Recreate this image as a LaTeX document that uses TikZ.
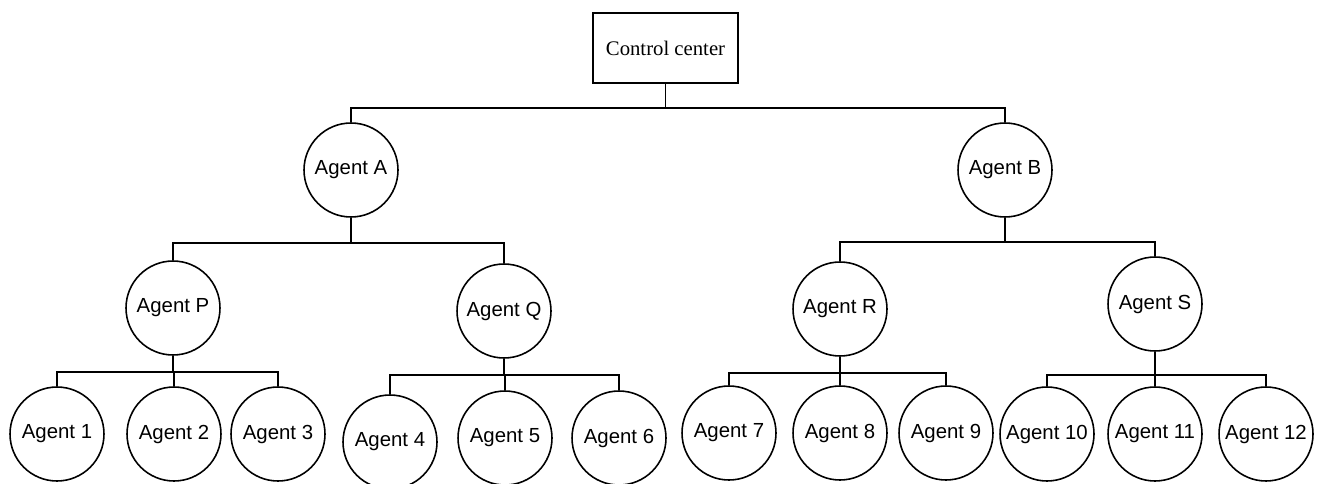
\documentclass[tikz,border=0pt]{standalone}
\usepackage{fontspec}
\setmainfont{Liberation Serif}
\newfontfamily\agentfont{Liberation Sans}
\usepackage{tikz}
\usetikzlibrary{positioning}

\begin{document}
\begin{tikzpicture}[x=0.02cm,y=-0.02cm,line width=0.9pt,
  center/.style={draw,rectangle,minimum width=2.9cm,minimum height=1.4cm,
    font=\fontsize{11.8}{14}\selectfont},
  agent/.style={draw,circle,minimum size=1.88cm,inner sep=0pt,
    font=\agentfont\fontsize{11.6}{14}\selectfont}]
\useasboundingbox (0,0) rectangle (1324,483);
\node[center] (cc) at (665.5,48) {Control center};
\node[agent]  (A)  at (351,170)  {Agent A};
\node[agent]  (B)  at (1005,170) {Agent B};
\node[agent]  (P)  at (173,308)  {Agent P};
\node[agent]  (Q)  at (504,311)  {Agent Q};
\node[agent]  (R)  at (840,309)  {Agent R};
\node[agent]  (S)  at (1155,304) {Agent S};
\node[agent]  (a1)  at (57,434)   {Agent 1};
\node[agent]  (a2)  at (174,434)  {Agent 2};
\node[agent]  (a3)  at (278,434)  {Agent 3};
\node[agent]  (a4)  at (390,442)  {Agent 4};
\node[agent]  (a5)  at (505,438)  {Agent 5};
\node[agent]  (a6)  at (619,438)  {Agent 6};
\node[agent]  (a7)  at (729,433)  {Agent 7};
\node[agent]  (a8)  at (840,433)  {Agent 8};
\node[agent]  (a9)  at (946,433)  {Agent 9};
\node[agent]  (a10) at (1047,434) {Agent 10};
\node[agent]  (a11) at (1155,434) {Agent 11};
\node[agent]  (a12) at (1266,434) {Agent 12};
% tree links
\foreach \c in {A,B} \draw (cc.south) -- ++(0,24) -| (\c.north);
\foreach \c in {P,Q} \draw (A.south) -- ++(0,25) -| (\c.north);
\foreach \c in {R,S} \draw (B.south) -- ++(0,24) -| (\c.north);
\foreach \c in {a1,a2,a3} \draw (P.south) -- ++(0,16) -| (\c.north);
\foreach \c in {a4,a5,a6} \draw (Q.south) -- ++(0,16) -| (\c.north);
\foreach \c in {a7,a8,a9} \draw (R.south) -- ++(0,16) -| (\c.north);
\foreach \c in {a10,a11,a12} \draw (S.south) -- ++(0,23) -| (\c.north);
\end{tikzpicture}
\end{document}
